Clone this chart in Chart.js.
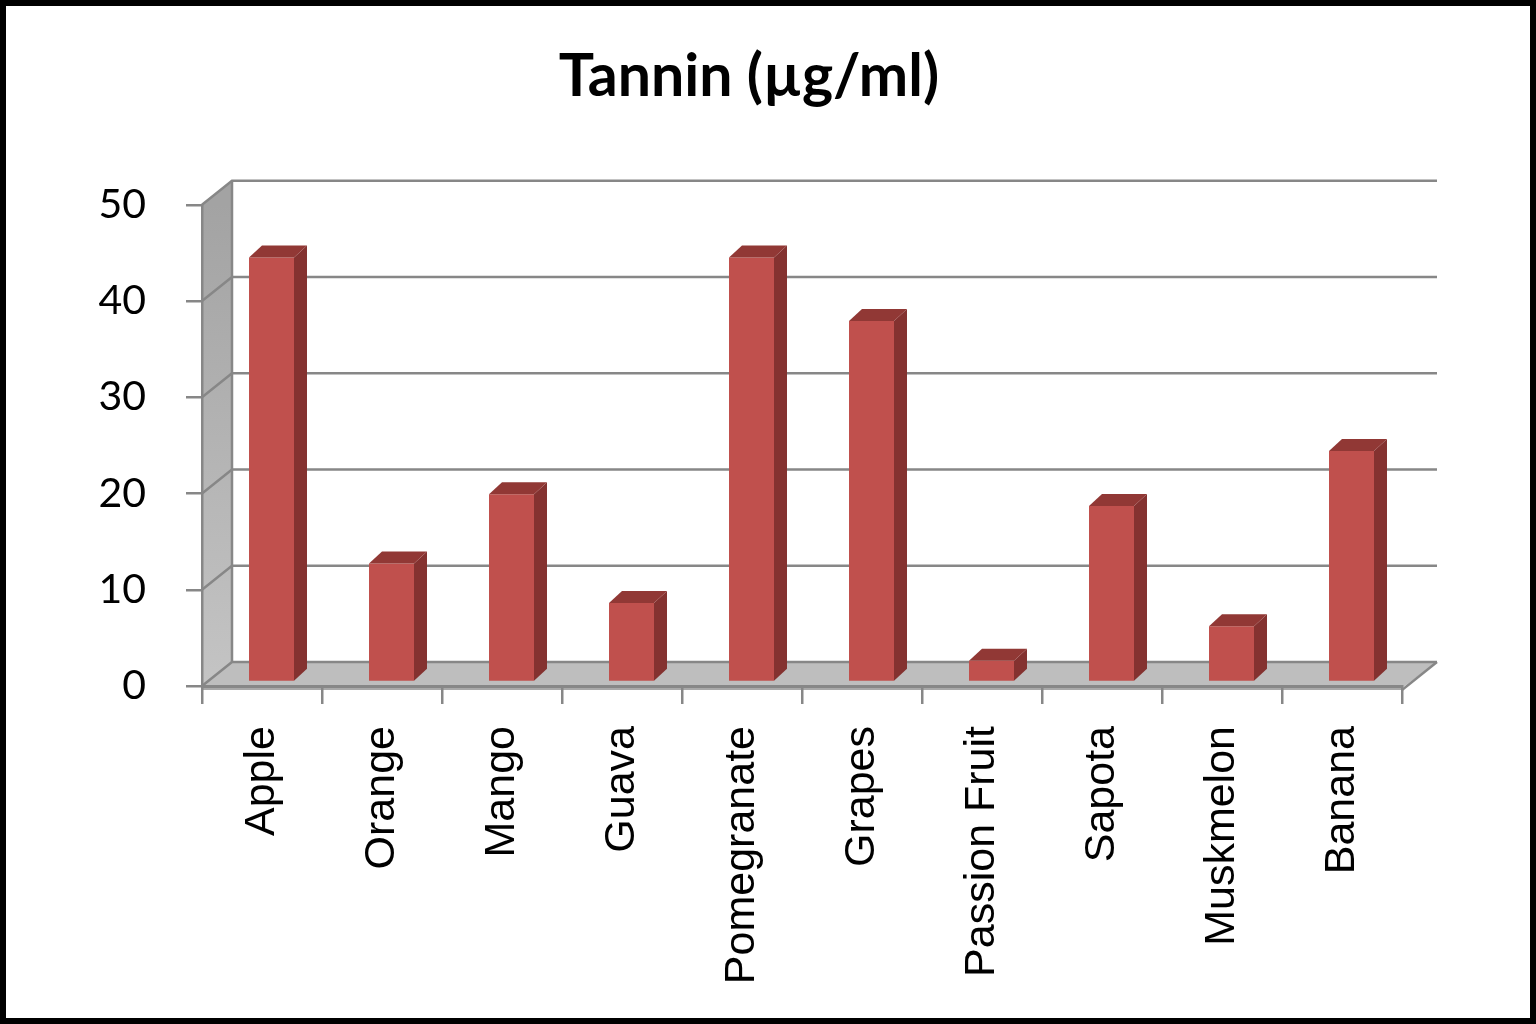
<!DOCTYPE html>
<html>
<head>
<meta charset="utf-8">
<title>Tannin (µg/ml)</title>
<script src="https://cdn.jsdelivr.net/npm/chart.js@4/dist/chart.umd.min.js"></script>
<style>
  html, body { margin: 0; padding: 0; background: #fff; }
  canvas { display: block; }
</style>
</head>
<body>
<canvas id="tanninChart" width="1536" height="1024"></canvas>
<script>
/* ===== Data ===== */
const categories = ["Apple", "Orange", "Mango", "Guava", "Pomegranate", "Grapes", "Passion Fruit", "Sapota", "Muskmelon", "Banana"];
const tanninValues = [44.1, 12.3, 19.5, 8.2, 44.1, 37.5, 2.2, 18.3, 5.8, 24.0];
const yMin = 0;
const yMax = 50;
const yStep = 10;

/* ===== Look ===== */
const axisGrey = "#878787";
const wallDepth = { dx: 30, dy: -24, dxRight: 35 };   // back wall offset from the front plane
const barShift = { dx: 9.5, dy: -4 };                 // bars sit a little behind the front edge
const boxDepth = { dx: 13, dy: -12 };                 // side / top faces of each bar

// map a front-plane point to the back wall
function toBack(area, x, y) {
  const t = (x - area.left) / (area.right - area.left);
  return [x + wallDepth.dx + t * (wallDepth.dxRight - wallDepth.dx), y + wallDepth.dy];
}

/* ===== 3D walls, floor and bar faces ===== */
const threeD = {
  id: "threeD",
  beforeDraw(chart) {
    const { ctx, chartArea: a, scales } = chart;
    const yScale = scales.y;
    ctx.save();
    ctx.fillStyle = "#fff";
    ctx.fillRect(0, 0, chart.width, chart.height);

    const y0 = yScale.getPixelForValue(yMin);
    const yTop = yScale.getPixelForValue(yMax);

    // side wall
    const [bxL, byTop] = toBack(a, a.left, yTop);
    const [, by0] = toBack(a, a.left, y0);
    const g = ctx.createLinearGradient(0, yTop, 0, y0);
    g.addColorStop(0, "#a3a3a3");
    g.addColorStop(1, "#c4c4c4");
    ctx.fillStyle = g;
    ctx.beginPath();
    ctx.moveTo(a.left, y0);
    ctx.lineTo(a.left, yTop);
    ctx.lineTo(bxL, byTop);
    ctx.lineTo(bxL, by0);
    ctx.closePath();
    ctx.fill();

    // floor
    const [bxR, ] = toBack(a, a.right, y0);
    ctx.fillStyle = "#a9a9a9";
    ctx.beginPath();
    ctx.moveTo(a.left, y0);
    ctx.lineTo(a.right, y0);
    ctx.lineTo(a.right, y0 + 4);
    ctx.lineTo(a.left, y0 + 4);
    ctx.closePath();
    ctx.fill();
    ctx.fillStyle = "#bebebe";
    ctx.beginPath();
    ctx.moveTo(a.left, y0);
    ctx.lineTo(a.right, y0 + 2);
    ctx.lineTo(bxR, by0);
    ctx.lineTo(bxL, by0);
    ctx.closePath();
    ctx.fill();

    // gridlines on the back wall + side wall
    ctx.strokeStyle = axisGrey;
    ctx.lineWidth = 2.5;
    yScale.ticks.forEach(t => {
      const yf = yScale.getPixelForValue(t.value);
      const [xl, yb] = toBack(a, a.left, yf);
      const [xr] = toBack(a, a.right, yf);
      ctx.beginPath();
      ctx.moveTo(a.left, yf);
      ctx.lineTo(xl, yb);
      ctx.lineTo(xr, yb);
      ctx.stroke();
    });
    // back edge of the side wall
    ctx.beginPath();
    ctx.moveTo(bxL, byTop);
    ctx.lineTo(bxL, by0);
    ctx.stroke();
    // right edge of the floor
    ctx.beginPath();
    ctx.moveTo(a.right, y0 + 4);
    ctx.lineTo(bxR, by0);
    ctx.stroke();
    ctx.restore();
  },
  beforeDatasetsDraw(chart) {
    chart.ctx.save();
    chart.ctx.translate(barShift.dx, barShift.dy);
  },
  afterDatasetsDraw(chart) {
    const { ctx } = chart;
    const meta = chart.getDatasetMeta(0);
    meta.data.forEach(bar => {
      const { x, y, base, width } = bar.getProps(["x", "y", "base", "width"], true);
      const l = x - width / 2;
      const r = x + width / 2;
      // side face
      ctx.fillStyle = "#843230";
      ctx.beginPath();
      ctx.moveTo(r, base);
      ctx.lineTo(r, y);
      ctx.lineTo(r + boxDepth.dx, y + boxDepth.dy);
      ctx.lineTo(r + boxDepth.dx, base + boxDepth.dy);
      ctx.closePath();
      ctx.fill();
      // top face
      ctx.fillStyle = "#913835";
      ctx.beginPath();
      ctx.moveTo(l, y);
      ctx.lineTo(r, y);
      ctx.lineTo(r + boxDepth.dx, y + boxDepth.dy);
      ctx.lineTo(l + boxDepth.dx, y + boxDepth.dy);
      ctx.closePath();
      ctx.fill();
    });
    ctx.restore();
  },
  afterDraw(chart) {
    const { ctx } = chart;
    ctx.save();
    ctx.strokeStyle = "#000";
    ctx.lineWidth = 6;
    ctx.strokeRect(3, 3, chart.width - 6, chart.height - 6);
    ctx.restore();
  }
};

/* ===== Chart ===== */
const ctx = document.getElementById("tanninChart").getContext("2d");
window.tanninChart = new Chart(ctx, {
  type: "bar",
  data: {
    labels: categories,
    datasets: [{
      label: "Tannin (µg/ml)",
      data: tanninValues,
      backgroundColor: "#c0504d",
      borderWidth: 0,
      barPercentage: 0.375,
      categoryPercentage: 1
    }]
  },
  options: {
    responsive: false,
    animation: false,
    devicePixelRatio: 1,
    layout: { padding: { left: 96, right: 134, top: 0, bottom: 0 } },
    plugins: {
      legend: { display: false },
      tooltip: { enabled: false },
      title: {
        display: true,
        text: "Tannin (µg/ml)",
        color: "#000",
        font: { family: "Lato", size: 59, weight: "bold", lineHeight: 1.2 },
        padding: { top: 42, bottom: 92 }
      }
    },
    scales: {
      x: {
        grid: { offset: true, drawOnChartArea: false, drawTicks: true, tickLength: 18, color: axisGrey, lineWidth: 2.5 },
        border: { display: true, color: axisGrey, width: 3 },
        ticks: {
          autoSkip: false, minRotation: 90, maxRotation: 90, padding: 22,
          color: "#000", font: { family: "Liberation Sans", size: 43 }
        },
        afterFit: s => { s.height = 338; }
      },
      y: {
        min: yMin, max: yMax,
        grid: { drawOnChartArea: false, drawTicks: true, tickLength: 16, color: axisGrey, lineWidth: 2.5 },
        border: { display: true, color: axisGrey, width: 2.5 },
        ticks: { stepSize: yStep, padding: 40, color: "#000", font: { family: "Lato", size: 41 } },
        afterFit: s => { s.width = 106; }
      }
    }
  },
  plugins: [threeD]
});
</script>
</body>
</html>
